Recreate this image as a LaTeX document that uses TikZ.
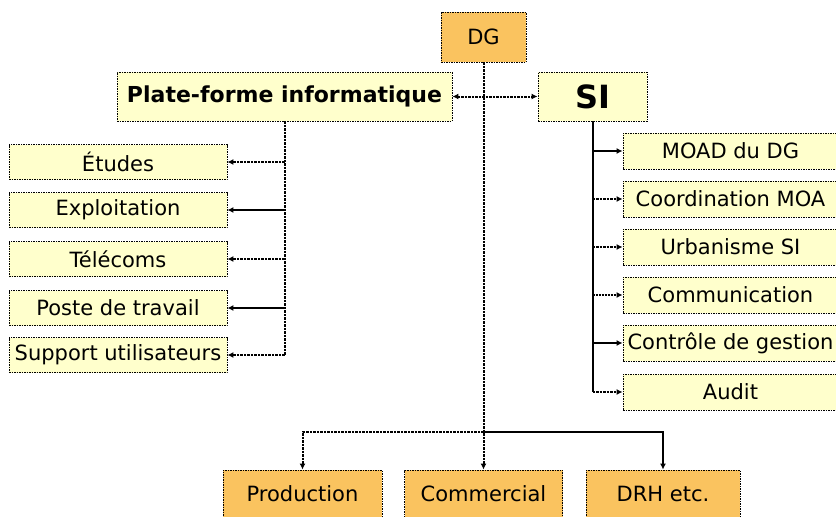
\documentclass[tikz,border=0pt]{standalone}
\usepackage{fontspec}
\setmainfont{DejaVu Sans}
\usetikzlibrary{arrows.meta}
\definecolor{boxyellow}{RGB}{255,255,204}
\definecolor{boxorange}{RGB}{250,195,95}
\tikzset{
  box/.style={draw=black, line width=0.9pt, dash pattern=on 1.5pt off 1pt, fill=boxyellow, inner sep=0pt, font=\fontsize{21}{21}\selectfont},
  obox/.style={box, fill=boxorange},
  dotline/.style={line width=2pt, dash pattern=on 2.5pt off 1pt},
  solidline/.style={line width=2pt},
  thinline/.style={line width=1.2pt},
  thindot/.style={line width=1.2pt, dash pattern=on 2pt off 1pt},
  tip/.style={-{Latex[length=6pt,width=6pt]}},
  lbox/.style={box, minimum width=218pt, minimum height=35pt},
  rbox/.style={box, minimum width=215pt, minimum height=36pt},
  bbox/.style={obox, minimum height=48pt},
}
\begin{document}
\begin{tikzpicture}[x=1pt,y=-1pt]
\useasboundingbox (0,0) rectangle (836,517);
\begin{scope}
\clip (0,0) rectangle (836,517);
% top
\node[obox, minimum width=85pt, minimum height=50pt] (DG) at (483.5,37) {DG};
\node[box, minimum width=335pt, minimum height=49pt, font=\fontsize{22}{22}\selectfont\bfseries] (PF) at (284.5,96.5) {Plate-forme informatique};
\node[box, minimum width=109pt, minimum height=49pt, font=\fontsize{32}{32}\selectfont\bfseries] (SI) at (592.5,96.5) {SI};
% left
\node[lbox] (ETU) at (118,162) {Études};
\node[lbox] (EXP) at (118,210) {Exploitation};
\node[lbox] (TEL) at (118,259) {Télécoms};
\node[lbox] (POS) at (118,308) {Poste de travail};
\node[lbox] (SUP) at (118,355) {Support utilisateurs};
% right
\node[rbox] (MOAD) at (730.5,151) {MOAD du DG};
\node[rbox] (COO) at (730.5,199) {Coordination MOA};
\node[rbox] (URB) at (730.5,247) {Urbanisme SI};
\node[rbox] (COM) at (730.5,295) {Communication};
\node[rbox] (CTR) at (730.5,343) {Contrôle de gestion};
\node[rbox] (AUD) at (730.5,392) {Audit};
% bottom
\node[bbox, minimum width=159pt] (PROD) at (302.5,494) {Production};
\node[bbox, minimum width=158pt] (COMM) at (483.5,494) {Commercial};
\node[bbox, minimum width=154pt] (DRH) at (663,494) {DRH etc.};
\end{scope}
% connectors
\coordinate (J) at (483.5,432);
\draw[dotline,tip] (DG.south) -- (COMM.north);
\draw[dotline,tip] (J) -| (PROD.north);
\draw[solidline,tip] (J) -| (DRH.north);
\draw[dotline,{Latex[length=6pt,width=6pt]}-{Latex[length=6pt,width=6pt]}] (PF.east) -- (SI.west);
% left tree
\draw[dotline] (PF.south) -- (PF.south |- SUP.east);
\draw[dotline,tip] (PF.south |- ETU.east) -- (ETU.east);
\draw[solidline,tip] (PF.south |- EXP.east) -- (EXP.east);
\draw[dotline,tip] (PF.south |- TEL.east) -- (TEL.east);
\draw[thinline,tip] (PF.south |- POS.east) -- (POS.east);
\draw[dotline,tip] (PF.south |- SUP.east) -- (SUP.east);
% right tree
\draw[solidline] (SI.south) -- (SI.south |- AUD.west);
\draw[solidline,tip] (SI.south |- MOAD.west) -- (MOAD.west);
\draw[dotline,tip] (SI.south |- COO.west) -- (COO.west);
\draw[dotline,tip] (SI.south |- URB.west) -- (URB.west);
\draw[thindot,tip] (SI.south |- COM.west) -- (COM.west);
\draw[solidline,tip] (SI.south |- CTR.west) -- (CTR.west);
\draw[dotline,tip] (SI.south |- AUD.west) -- (AUD.west);
\end{tikzpicture}
\end{document}
